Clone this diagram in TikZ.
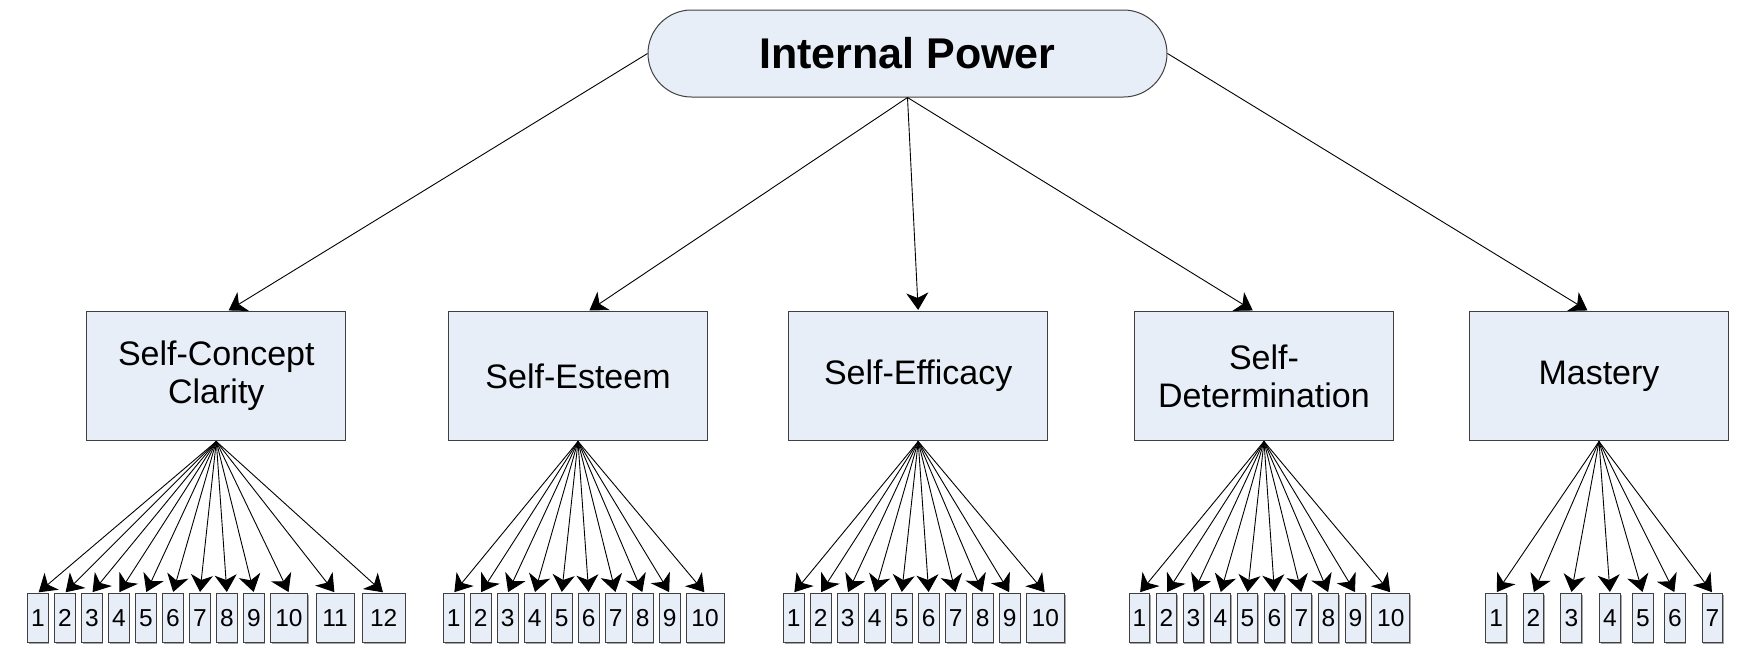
\documentclass[tikz,border=0pt]{standalone}
\usepackage{fontspec}
\setmainfont{Liberation Sans}
\usetikzlibrary{arrows.meta,shapes.misc,shadows}
\definecolor{boxfill}{HTML}{E8EEF7}
\definecolor{boxline}{HTML}{404040}
\begin{document}
\begin{tikzpicture}[x=1pt,y=-1pt,
  topnode/.style={rounded rectangle, draw=boxline, fill=boxfill, line width=1pt,
    minimum width=519pt, minimum height=87pt, inner sep=0pt,
    font=\fontsize{43}{43}\selectfont\bfseries},
  cat/.style={rectangle, draw=boxline, fill=boxfill, line width=1pt,
    minimum width=259pt, minimum height=129.5pt, inner sep=0pt, align=center,
    font=\fontsize{34}{38}\selectfont},
  item/.style={rectangle, draw=boxline, fill=boxfill, line width=1pt,
    minimum width=20.7pt, minimum height=49.5pt, inner sep=0pt,
    font=\fontsize{24.5}{24.5}\selectfont,
    drop shadow={shadow xshift=1.2pt, shadow yshift=-1.2pt, fill=gray!70, opacity=1}},
  conn/.style={-{Stealth[length=17pt,width=22pt,inset=5pt]}, line width=0.9pt, shorten >=1pt}
]
\useasboundingbox (0,0) rectangle (1738,648);

\node[topnode] (ip) at (907.5,53.5) {Internal Power};

\node[cat] (c1) at (216.3,376.2) {Self-Concept\\Clarity};
\node[cat] (c2) at (578,376.2) {Self-Esteem};
\node[cat] (c3) at (918.2,376.2) {Self-Efficacy};
\node[cat] (c4) at (1264,376.2) {Self-\\Determination};
\node[cat] (c5) at (1599,376.2) {Mastery};

% group 1
\foreach \i [evaluate=\i as \x using {37.9+27*(\i-1)}] in {1,...,9}
  \node[item] (a\i) at (\x,618.2) {\i};
\node[item, minimum width=37.4pt] (a10) at (289,618.2) {10};
\node[item, minimum width=38pt] (a11) at (335,618.2) {11};
\node[item, minimum width=42.7pt] (a12) at (383.7,618.2) {12};

% group 2
\foreach \i [evaluate=\i as \x using {453.7+27*(\i-1)}] in {1,...,9}
  \node[item] (b\i) at (\x,618.2) {\i};
\node[item, minimum width=38pt] (b10) at (705,618.2) {10};

% group 3
\foreach \i [evaluate=\i as \x using {793.7+27*(\i-1)}] in {1,...,9}
  \node[item] (d\i) at (\x,618.2) {\i};
\node[item, minimum width=38pt] (d10) at (1045.3,618.2) {10};

% group 4
\foreach \i [evaluate=\i as \x using {1139.5+27*(\i-1)}] in {1,...,9}
  \node[item] (e\i) at (\x,618.2) {\i};
\node[item, minimum width=38pt] (e10) at (1390.8,618.2) {10};

% group 5
\foreach \i/\x in {1/1496.2,2/1533.5,3/1571.3,4/1610,5/1642.8,6/1674.8,7/1712.5}
  \node[item] (f\i) at (\x,618.2) {\i};

% top connectors
\draw[conn] (ip.west) -- ([xshift=11.5pt]c1.north);
\draw[conn] (ip.south) -- ([xshift=10.6pt]c2.north);
\draw[conn] (ip.south) -- (c3.north);
\draw[conn] (ip.south) -- ([xshift=-10.4pt]c4.north);
\draw[conn] (ip.east) -- ([xshift=-10.7pt]c5.north);

% fans
\foreach \i in {1,...,12} \draw[conn] (c1.south) -- (a\i.north);
\foreach \i in {1,...,10} \draw[conn] (c2.south) -- (b\i.north);
\foreach \i in {1,...,10} \draw[conn] (c3.south) -- (d\i.north);
\foreach \i in {1,...,10} \draw[conn] (c4.south) -- (e\i.north);
\foreach \i in {1,...,7} \draw[conn] (c5.south) -- (f\i.north);
\end{tikzpicture}
\end{document}
